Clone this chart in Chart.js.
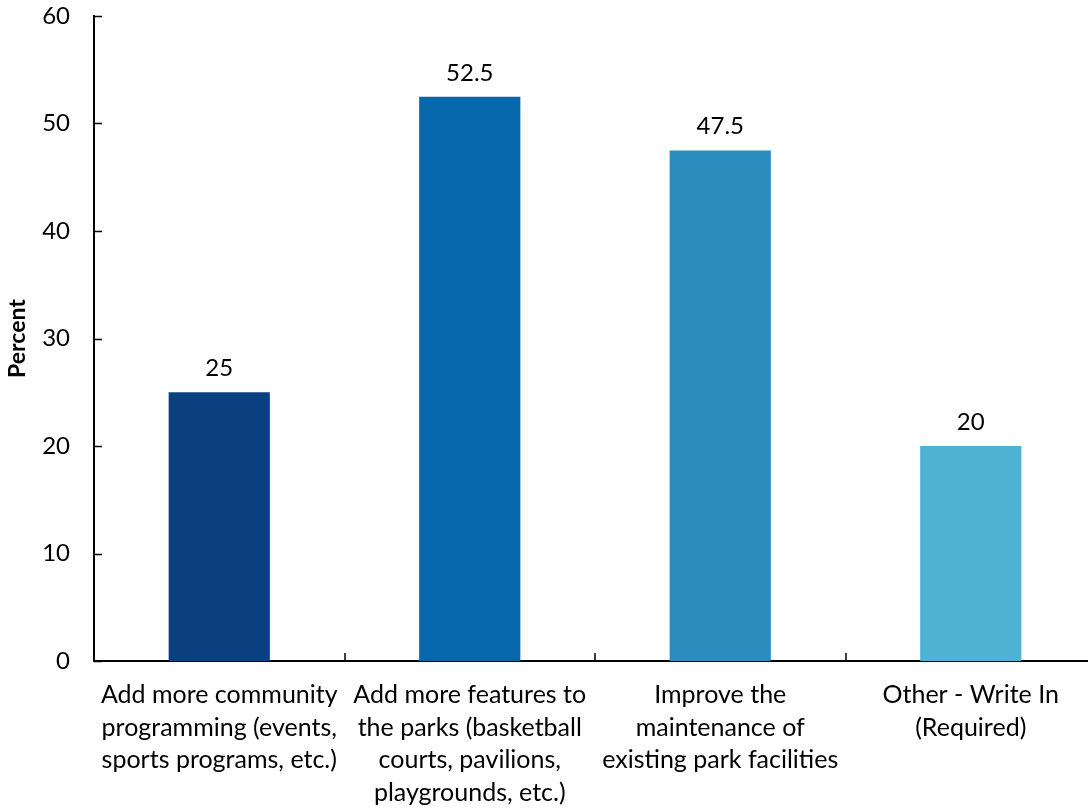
<!DOCTYPE html>
<html>
<head>
<meta charset="utf-8">
<script src="https://cdn.jsdelivr.net/npm/chart.js@4.4.1/dist/chart.umd.min.js"></script>
<style>
html,body{margin:0;padding:0;background:#fff;overflow:hidden;}
</style>
</head>
<body>
<canvas id="bars" width="1096" height="810"></canvas>
<script>
var categories = [
  ['Add more community', 'programming (events,', 'sports programs, etc.)'],
  ['Add more features to', 'the parks (basketball', 'courts, pavilions,', 'playgrounds, etc.)'],
  ['Improve the', 'maintenance of', 'existing park facilities'],
  ['Other - Write In', '(Required)']
];
var percents = [25, 52.5, 47.5, 20];
var barColors = ['#0b4080', '#0868ac', '#2b8cbe', '#4eb3d3'];
var yTicks = [0, 10, 20, 30, 40, 50, 60];

var fontFam = 'Lato, "Open Sans", sans-serif';

// value labels above bars + inward tick marks like the original
var extras = {
  id: 'extras',
  afterDatasetsDraw: function(chart) {
    var c = chart.ctx;
    var meta = chart.getDatasetMeta(0);
    c.save();
    c.fillStyle = '#000';
    c.font = '24px ' + fontFam;
    c.textAlign = 'center';
    c.textBaseline = 'alphabetic';
    meta.data.forEach(function(bar, i) {
      var p = bar.getProps(['x', 'y'], true);
      c.fillText(String(percents[i]), p.x, p.y - 16);
    });

    var xs = chart.scales.x, ys = chart.scales.y;
    c.strokeStyle = '#000';
    c.lineWidth = 1.5;
    c.beginPath();
    yTicks.forEach(function(v) {
      var y = Math.round(ys.getPixelForValue(v)) + 0.5;
      c.moveTo(xs.left, y);
      c.lineTo(xs.left + 8, y);
    });
    for (var i = 0; i < categories.length - 1; i++) {
      var bx = Math.round((xs.getPixelForValue(i) + xs.getPixelForValue(i + 1)) / 2);
      c.moveTo(bx, ys.bottom);
      c.lineTo(bx, ys.bottom - 8);
    }
    c.stroke();
    c.restore();
  }
};

new Chart(document.getElementById('bars').getContext('2d'), {
  type: 'bar',
  data: {
    labels: categories,
    datasets: [{
      label: 'Percent',
      data: percents,
      backgroundColor: barColors,
      borderWidth: 0,
      categoryPercentage: 1,
      barPercentage: 0.404
    }]
  },
  options: {
    responsive: false,
    animation: false,
    devicePixelRatio: 1,
    layout: { padding: { top: 16, right: 0, left: 0, bottom: 0 } },
    plugins: { legend: { display: false }, tooltip: { enabled: false } },
    scales: {
      x: {
        grid: { display: false, drawTicks: false },
        border: { display: true, color: '#000', width: 2 },
        ticks: { color: '#000', font: { family: fontFam, size: 25, lineHeight: 1.3 }, padding: 18, maxRotation: 0, autoSkip: false },
        afterFit: function(s) { s.height = 149; s.paddingLeft = 0; s.paddingRight = 0; }
      },
      y: {
        min: 0, max: 60,
        afterBuildTicks: function(s) { s.ticks = yTicks.map(function(v) { return { value: v }; }); },
        grid: { display: false, drawTicks: false },
        border: { display: true, color: '#000', width: 2 },
        ticks: { color: '#000', font: { family: fontFam, size: 24 }, padding: 24 },
        title: { display: true, text: 'Percent', color: '#000', font: { family: fontFam, size: 23, weight: 'bold' }, padding: { top: 4, bottom: 0 } },
        afterFit: function(s) { s.width = 94; s.paddingTop = 0; s.paddingBottom = 0; }
      }
    }
  },
  plugins: [extras]
});
</script>
</body>
</html>
